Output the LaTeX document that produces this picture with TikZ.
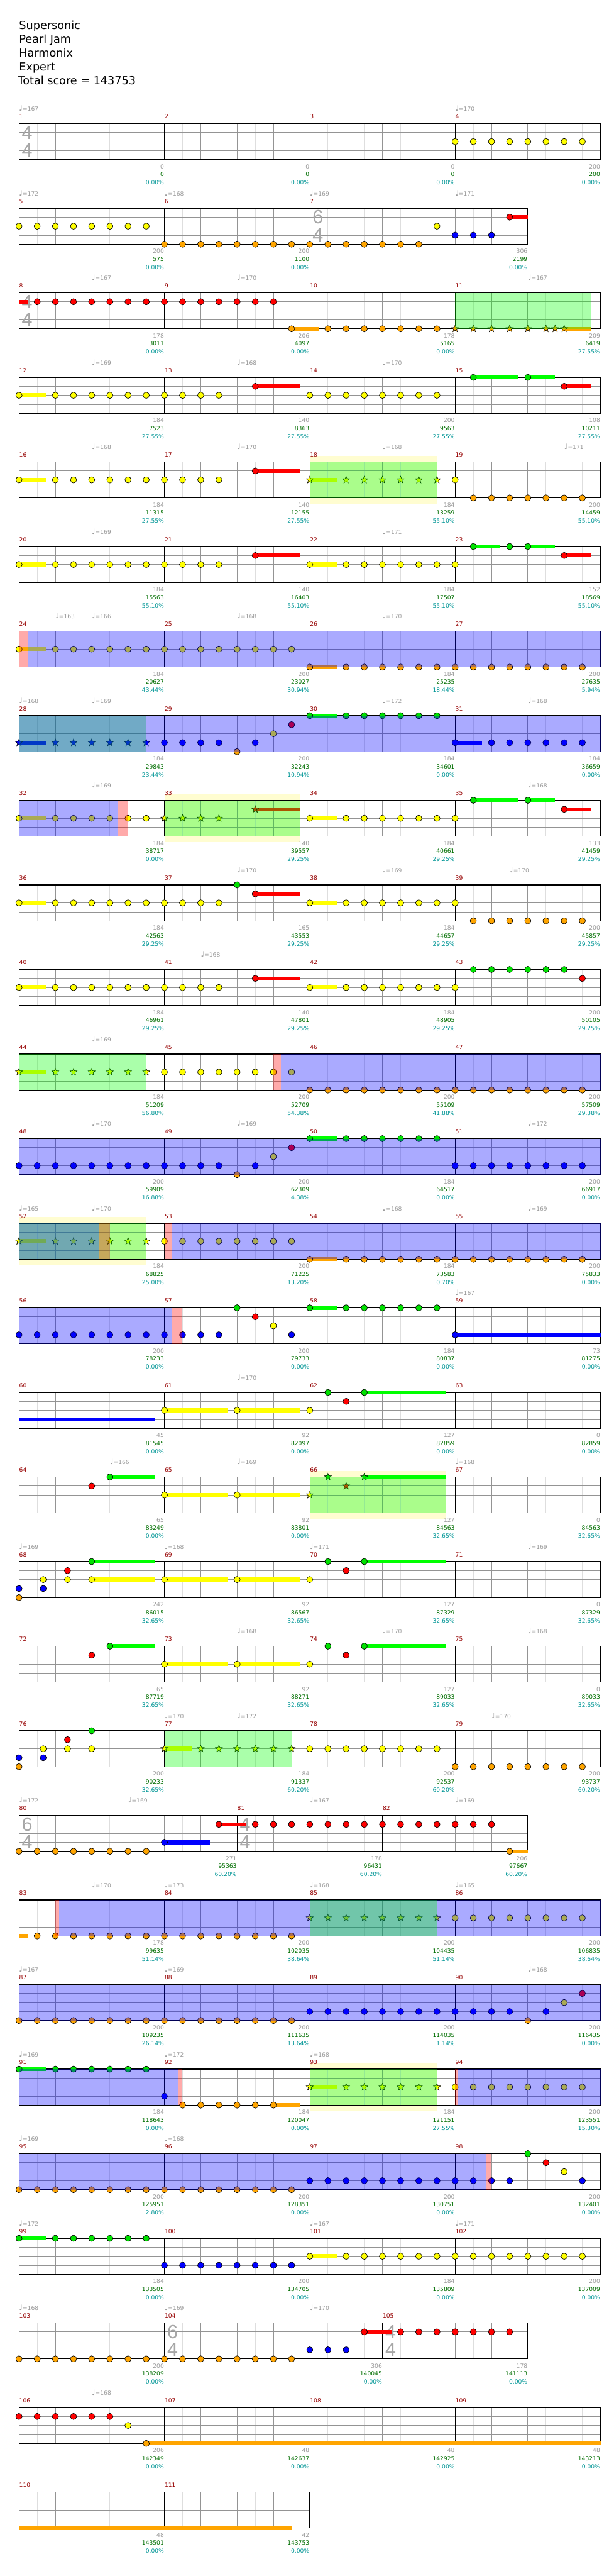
\documentclass[tikz,border=0pt]{standalone}
\usepackage{fontspec}
\setmainfont{DejaVu Sans}
\newfontfamily\tsfont{Liberation Sans}
\usetikzlibrary{shapes.geometric}
\definecolor{cG}{RGB}{0,225,0}
\definecolor{sG}{RGB}{0,255,0}
\definecolor{cR}{RGB}{255,0,0}
\definecolor{cY}{RGB}{255,255,0}
\definecolor{cB}{RGB}{0,0,255}
\definecolor{cO}{RGB}{255,165,0}
\definecolor{mred}{RGB}{150,0,0}
\definecolor{tgray}{RGB}{155,155,155}
\definecolor{sgreen}{RGB}{0,110,0}
\definecolor{pteal}{RGB}{0,150,150}
\newcount\nodeid
\newcommand\Nn{\global\advance\nodeid by 1\relax}
\newcommand\Grd[1]{%
 \foreach \i in {1,3,...,#1}{\draw[halfl] (\i,0) -- (\i,60);}%
 \foreach \i in {2,4,...,#1}{\draw[beatl] (\i,0) -- (\i,60);}%
 \foreach \j in {15,30,45}{\draw[beatl] (0,\j) -- (#1,\j);}}
\newcommand\Mls[1]{\foreach \i in {#1}{\draw[measl] (\i,0) -- (\i,60);}}
\newcommand\Brd[1]{\draw[bordl] (0,0) rectangle (#1,60);}
\newcommand\StdRow{\Grd{32}\Mls{8,16,24}\Brd{32}}
\newcommand\Nts[3]{\foreach \e in {#3}{\filldraw[notest,fill=#1] (\e,#2*15) circle[radius=5.2pt];}}
\newcommand\Sus[4]{\fill[#1] (#3,#2*15-3.3) rectangle (#4,#2*15+3.3);}
\newcommand\Sts[3]{\foreach \e in {#3}{\Nn\node[starn,fill=#1] (n\the\nodeid) at (\e,#2*15) {};}}
\newcommand\Mnum[2]{\Nn\node[mnumst] (n\the\nodeid) at (#1,-8) {#2};}
\newcommand\MnF[4]{\Mnum{0}{#1}\Mnum{8}{#2}\Mnum{16}{#3}\Mnum{24}{#4}}
\newcommand\Tmp[2]{\Nn\node[tmpst] (n\the\nodeid) at (#1,-20.5) {{\fontsize{12.5}{12}\selectfont ♩}=#2};}
\newcommand\Blab[4]{\Nn\node[glab] (n\the\nodeid) at (#1,75) {#2};\Nn\node[slab] (n\the\nodeid) at (#1,88.5) {#3};\Nn\node[plab] (n\the\nodeid) at (#1,102) {#4};}
\newcommand\Tsig[3]{\Nn\node[tsst] (n\the\nodeid) at ([xshift=4.5pt]#1,15) {#2};\Nn\node[tsst] (n\the\nodeid) at ([xshift=4.5pt]#1,45) {#3};}
\newcommand\Ov[3]{\fill[#1,fill opacity=0.333] (#2,0) rectangle (#3,60);}
\newcommand\Band[2]{\fill[yellow!18] (#1,-10) rectangle (#2,70);}
\begin{document}
\begin{tikzpicture}[x=30.3125pt,y=-1pt,
 halfl/.style={draw=black!13,line width=0.8pt},
 beatl/.style={draw=black!42,line width=0.8pt},
 measl/.style={draw=black,line width=0.8pt},
 bordl/.style={draw=black,line width=1.2pt},
 notest/.style={draw=black,line width=0.7pt},
 starn/.style={star,star points=5,star point ratio=2.4,minimum size=12.5pt,inner sep=0pt,draw=black,line width=0.6pt},
 smallf/.style={font=\fontsize{9.6}{10}\selectfont,inner sep=0pt},
 mnumst/.style={smallf,anchor=base west,text=mred,xshift=0.3pt},
 tmpst/.style={smallf,anchor=base west,text=tgray},
 glab/.style={smallf,anchor=base east,text=tgray,xshift=-0.5pt},
 slab/.style={smallf,anchor=base east,text=sgreen,xshift=-0.5pt},
 plab/.style={smallf,anchor=base east,text=pteal,xshift=-0.5pt},
 tsst/.style={anchor=west,inner sep=0pt,text=black!35,font=\tsfont\fontsize{32}{32}\selectfont},
 titlest/.style={anchor=base west,inner sep=0pt,font=\fontsize{18.5}{20}\selectfont}]
\useasboundingbox (-1.0458,0) rectangle (32.735,4294);
\fill[white] (-1.0458,0) rectangle (32.735,4294);
\node[titlest] (t1) at (0,48.5) {Supersonic};
\node[titlest] (t2) at (0,71.6) {Pearl Jam};
\node[titlest] (t3) at (0,94.7) {Harmonix};
\node[titlest] (t4) at (0,117.8) {Expert};
\node[titlest] (t5) at (-0.066,140.9) {Total score = 143753};
% row 1
\begin{scope}[shift={(0,206)}]
\StdRow\Tsig{0}{4}{4}
\Nts{cY}{2}{24,...,31}
\MnF{1}{2}{3}{4}
\Tmp{0}{167}\Tmp{24}{170}
\Blab{8}{0}{0}{0.00\%}\Blab{16}{0}{0}{0.00\%}\Blab{24}{0}{0}{0.00\%}\Blab{32}{200}{200}{0.00\%}
\end{scope}
% row 2
\begin{scope}[shift={(0,347)}]
\Grd{28}\Mls{8,16}\Brd{28}\Tsig{16}{6}{4}
\Sus{cR}{1}{27}{28}
\Nts{cY}{2}{0,...,7}\Nts{cY}{2}{23}\Nts{cO}{4}{8,...,22}\Nts{cB}{3}{24,25,26}\Nts{cR}{1}{27}
\Mnum{0}{5}\Mnum{8}{6}\Mnum{16}{7}
\Tmp{0}{172}\Tmp{8}{168}\Tmp{16}{169}\Tmp{24}{171}
\Blab{8}{200}{575}{0.00\%}\Blab{16}{200}{1100}{0.00\%}\Blab{28}{306}{2199}{0.00\%}
\end{scope}
% row 3
\begin{scope}[shift={(0,488)}]
\StdRow\Tsig{0}{4}{4}
\Sus{cR}{1}{0}{0.48}\Nts{cR}{1}{1,...,14}
\Sus{cO}{4}{15}{16.48}\Nts{cO}{4}{15,17,18,19,20,21,22,23}
\Sus{cO}{4}{30}{31.48}\Sts{cO}{4}{24,25,26,27,28,29,29.5,30}
\Ov{green}{24}{31.48}
\MnF{8}{9}{10}{11}
\Tmp{4}{167}\Tmp{12}{170}\Tmp{28}{167}
\Blab{8}{178}{3011}{0.00\%}\Blab{16}{206}{4097}{0.00\%}\Blab{24}{178}{5165}{0.00\%}\Blab{32}{209}{6419}{27.55\%}
\end{scope}
% row 4
\begin{scope}[shift={(0,629)}]
\StdRow
\Sus{cY}{2}{0}{1.48}\Nts{cY}{2}{0,2,3,4,5,6,7,8,9,10,11,16,17,18,19,20,21,22,23}
\Sus{cR}{1}{13}{15.48}\Nts{cR}{1}{13}
\Sus{sG}{0}{25}{27.5}\Nts{cG}{0}{25}\Sus{sG}{0}{28}{29.5}\Nts{cG}{0}{28}
\Sus{cR}{1}{30}{31.48}\Nts{cR}{1}{30}
\MnF{12}{13}{14}{15}
\Tmp{4}{169}\Tmp{12}{168}\Tmp{20}{170}
\Blab{8}{184}{7523}{27.55\%}\Blab{16}{140}{8363}{27.55\%}\Blab{24}{200}{9563}{27.55\%}\Blab{32}{108}{10211}{27.55\%}
\end{scope}
% row 5
\begin{scope}[shift={(0,770)}]
\Band{16}{23}\StdRow
\Sus{cY}{2}{0}{1.48}\Nts{cY}{2}{0,2,3,4,5,6,7,8,9,10,11,24}
\Sus{cR}{1}{13}{15.48}\Nts{cR}{1}{13}
\Sus{cY}{2}{16}{17.48}\Sts{cY}{2}{16,18,19,20,21,22,23}
\Nts{cO}{4}{25,...,31}
\Ov{green}{16}{23}
\MnF{16}{17}{18}{19}
\Tmp{4}{168}\Tmp{12}{170}\Tmp{20}{168}\Tmp{30}{171}
\Blab{8}{184}{11315}{27.55\%}\Blab{16}{140}{12155}{27.55\%}\Blab{24}{184}{13259}{55.10\%}\Blab{32}{200}{14459}{55.10\%}
\end{scope}
% row 6
\begin{scope}[shift={(0,911)}]
\StdRow
\Sus{cY}{2}{0}{1.48}\Nts{cY}{2}{0,2,3,4,5,6,7,8,9,10,11}
\Sus{cR}{1}{13}{15.48}\Nts{cR}{1}{13}
\Sus{cY}{2}{16}{17.48}\Nts{cY}{2}{16,18,19,20,21,22,23,24}
\Sus{sG}{0}{25}{26.5}\Nts{cG}{0}{25,27}\Sus{sG}{0}{28}{29.5}\Nts{cG}{0}{28}
\Sus{cR}{1}{30}{31.48}\Nts{cR}{1}{30}
\MnF{20}{21}{22}{23}
\Tmp{4}{169}\Tmp{20}{171}
\Blab{8}{184}{15563}{55.10\%}\Blab{16}{140}{16403}{55.10\%}\Blab{24}{184}{17507}{55.10\%}\Blab{32}{152}{18569}{55.10\%}
\end{scope}
% row 7
\begin{scope}[shift={(0,1052)}]
\StdRow
\Sus{cY}{2}{0}{1.48}\Nts{cY}{2}{0}\Nts{cY}{2}{2,...,15}
\Sus{cO}{4}{16}{17.48}\Nts{cO}{4}{16}\Nts{cO}{4}{18,...,31}
\Ov{red}{0}{0.48}\Ov{blue}{0.48}{32}
\MnF{24}{25}{26}{27}
\Tmp{2}{163}\Tmp{4}{166}\Tmp{12}{168}\Tmp{20}{170}
\Blab{8}{184}{20627}{43.44\%}\Blab{16}{200}{23027}{30.94\%}\Blab{24}{184}{25235}{18.44\%}\Blab{32}{200}{27635}{5.94\%}
\end{scope}
% row 8
\begin{scope}[shift={(0,1193)}]
\StdRow
\Sus{cB}{3}{0}{1.48}\Sts{cB}{3}{0,2,3,4,5,6,7}
\Nts{cB}{3}{8,9,10,11,13}\Nts{cO}{4}{12}\Nts{cY}{2}{14}\Nts{cR}{1}{15}
\Sus{sG}{0}{16}{17.48}\Nts{cG}{0}{16,18,19,20,21,22,23}
\Sus{cB}{3}{24}{25.48}\Nts{cB}{3}{24,26,27,28,29,30,31}
\Ov{green}{0}{7}\Ov{blue}{0}{32}
\MnF{28}{29}{30}{31}
\Tmp{0}{168}\Tmp{4}{169}\Tmp{20}{172}\Tmp{28}{168}
\Blab{8}{184}{29843}{23.44\%}\Blab{16}{200}{32243}{10.94\%}\Blab{24}{184}{34601}{0.00\%}\Blab{32}{184}{36659}{0.00\%}
\end{scope}
% row 9
\begin{scope}[shift={(0,1334)}]
\Band{8}{15.48}\StdRow
\Sus{cY}{2}{0}{1.48}\Nts{cY}{2}{0,2,3,4,5,6,7}
\Sts{cY}{2}{8,9,10,11}
\Sus{cR}{1}{13}{15.48}\Sts{cR}{1}{13}
\Sus{cY}{2}{16}{17.48}\Nts{cY}{2}{16,18,19,20,21,22,23,24}
\Sus{sG}{0}{25}{27.5}\Nts{cG}{0}{25}\Sus{sG}{0}{28}{29.5}\Nts{cG}{0}{28}
\Sus{cR}{1}{30}{31.48}\Nts{cR}{1}{30}
\Ov{green}{8}{15.48}\Ov{blue}{0}{5.44}\Ov{red}{5.44}{6}
\MnF{32}{33}{34}{35}
\Tmp{4}{169}\Tmp{28}{168}
\Blab{8}{184}{38717}{0.00\%}\Blab{16}{140}{39557}{29.25\%}\Blab{24}{184}{40661}{29.25\%}\Blab{32}{133}{41459}{29.25\%}
\end{scope}
% row 10
\begin{scope}[shift={(0,1475)}]
\StdRow
\Sus{cY}{2}{0}{1.48}\Nts{cY}{2}{0,2,3,4,5,6,7,8,9,10,11}\Nts{cG}{0}{12}
\Sus{cR}{1}{13}{15.48}\Nts{cR}{1}{13}
\Sus{cY}{2}{16}{17.48}\Nts{cY}{2}{16,18,19,20,21,22,23,24}\Nts{cO}{4}{25,...,31}
\MnF{36}{37}{38}{39}
\Tmp{12}{170}\Tmp{20}{169}\Tmp{27}{170}
\Blab{8}{184}{42563}{29.25\%}\Blab{16}{165}{43553}{29.25\%}\Blab{24}{184}{44657}{29.25\%}\Blab{32}{200}{45857}{29.25\%}
\end{scope}
% row 11
\begin{scope}[shift={(0,1616)}]
\StdRow
\Sus{cY}{2}{0}{1.48}\Nts{cY}{2}{0,2,3,4,5,6,7,8,9,10,11}
\Sus{cR}{1}{13}{15.48}\Nts{cR}{1}{13}
\Sus{cY}{2}{16}{17.48}\Nts{cY}{2}{16,18,19,20,21,22,23,24}\Nts{cG}{0}{25,...,30}\Nts{cR}{1}{31}
\MnF{40}{41}{42}{43}
\Tmp{10}{168}
\Blab{8}{184}{46961}{29.25\%}\Blab{16}{140}{47801}{29.25\%}\Blab{24}{184}{48905}{29.25\%}\Blab{32}{200}{50105}{29.25\%}
\end{scope}
% row 12
\begin{scope}[shift={(0,1757)}]
\StdRow
\Sus{cY}{2}{0}{1.48}\Sts{cY}{2}{0,2,3,4,5,6,7}\Nts{cY}{2}{8,...,15}\Nts{cO}{4}{16,...,31}
\Ov{green}{0}{7}\Ov{red}{14}{14.4}\Ov{blue}{14.4}{32}
\MnF{44}{45}{46}{47}
\Tmp{4}{169}
\Blab{8}{184}{51209}{56.80\%}\Blab{16}{200}{52709}{54.38\%}\Blab{24}{200}{55109}{41.88\%}\Blab{32}{200}{57509}{29.38\%}
\end{scope}
% row 13
\begin{scope}[shift={(0,1898)}]
\StdRow
\Nts{cB}{3}{0,...,11}\Nts{cO}{4}{12}\Nts{cB}{3}{13}\Nts{cY}{2}{14}\Nts{cR}{1}{15}
\Sus{sG}{0}{16}{17.48}\Nts{cG}{0}{16,18,19,20,21,22,23}\Nts{cB}{3}{24,...,31}
\Ov{blue}{0}{32}
\MnF{48}{49}{50}{51}
\Tmp{4}{170}\Tmp{12}{169}\Tmp{28}{172}
\Blab{8}{200}{59909}{16.88\%}\Blab{16}{200}{62309}{4.38\%}\Blab{24}{184}{64517}{0.00\%}\Blab{32}{200}{66917}{0.00\%}
\end{scope}
% row 14
\begin{scope}[shift={(0,2039)}]
\Band{0}{7}\StdRow
\Sus{cY}{2}{0}{1.48}\Sts{cY}{2}{0,2,3,4,5,6,7}\Nts{cY}{2}{8,...,15}
\Sus{cO}{4}{16}{17.48}\Nts{cO}{4}{16}\Nts{cO}{4}{18,...,31}
\Ov{green}{0}{7}\Ov{blue}{0}{4.42}\Ov{red}{4.42}{5}\Ov{red}{8}{8.43}\Ov{blue}{8.43}{32}
\MnF{52}{53}{54}{55}
\Tmp{0}{165}\Tmp{4}{170}\Tmp{20}{168}\Tmp{28}{169}
\Blab{8}{184}{68825}{25.00\%}\Blab{16}{200}{71225}{13.20\%}\Blab{24}{184}{73583}{0.70\%}\Blab{32}{200}{75833}{0.00\%}
\end{scope}
% row 15
\begin{scope}[shift={(0,2180)}]
\StdRow
\Nts{cB}{3}{0,...,11}\Nts{cG}{0}{12}\Nts{cR}{1}{13}\Nts{cY}{2}{14}\Nts{cB}{3}{15}
\Sus{sG}{0}{16}{17.48}\Nts{cG}{0}{16,18,19,20,21,22,23}
\Sus{cB}{3}{24}{32}\Nts{cB}{3}{24}
\Ov{blue}{0}{8.43}\Ov{red}{8.43}{9}
\MnF{56}{57}{58}{59}
\Tmp{24}{167}
\Blab{8}{200}{78233}{0.00\%}\Blab{16}{200}{79733}{0.00\%}\Blab{24}{184}{80837}{0.00\%}\Blab{32}{73}{81275}{0.00\%}
\end{scope}
% row 16
\begin{scope}[shift={(0,2321)}]
\StdRow
\Sus{cB}{3}{0}{7.49}
\Sus{cY}{2}{8}{11.5}\Sus{cY}{2}{12}{15.5}\Nts{cY}{2}{8,12,16}
\Nts{cG}{0}{17}\Nts{cR}{1}{18}\Sus{sG}{0}{19}{23.49}\Nts{cG}{0}{19}
\MnF{60}{61}{62}{63}
\Tmp{12}{170}
\Blab{8}{45}{81545}{0.00\%}\Blab{16}{92}{82097}{0.00\%}\Blab{24}{127}{82859}{0.00\%}\Blab{32}{0}{82859}{0.00\%}
\end{scope}
% row 17
\begin{scope}[shift={(0,2462)}]
\Band{16}{23.5}\StdRow
\Nts{cR}{1}{4}\Sus{sG}{0}{5}{7.5}\Nts{cG}{0}{5}
\Sus{cY}{2}{8}{11.5}\Sus{cY}{2}{12}{15.5}\Nts{cY}{2}{8,12}
\Sts{cY}{2}{16}\Sts{cG}{0}{17}\Sts{cR}{1}{18}\Sus{sG}{0}{19}{23.49}\Sts{cG}{0}{19}
\Ov{green}{16}{23.5}
\MnF{64}{65}{66}{67}
\Tmp{5}{166}\Tmp{12}{169}\Tmp{24}{168}
\Blab{8}{65}{83249}{0.00\%}\Blab{16}{92}{83801}{0.00\%}\Blab{24}{127}{84563}{32.65\%}\Blab{32}{0}{84563}{32.65\%}
\end{scope}
% row 18
\begin{scope}[shift={(0,2603)}]
\StdRow
\Nts{cB}{3}{0,1.333}\Nts{cO}{4}{0}\Nts{cY}{2}{1.333,2.667}\Nts{cR}{1}{2.667}
\Sus{sG}{0}{4}{7.5}\Sus{cY}{2}{4}{7.5}\Nts{cG}{0}{4}\Nts{cY}{2}{4}
\Sus{cY}{2}{8}{11.5}\Sus{cY}{2}{12}{15.5}\Nts{cY}{2}{8,12,16}
\Nts{cG}{0}{17}\Nts{cR}{1}{18}\Sus{sG}{0}{19}{23.49}\Nts{cG}{0}{19}
\MnF{68}{69}{70}{71}
\Tmp{0}{169}\Tmp{8}{168}\Tmp{16}{171}\Tmp{28}{169}
\Blab{8}{242}{86015}{32.65\%}\Blab{16}{92}{86567}{32.65\%}\Blab{24}{127}{87329}{32.65\%}\Blab{32}{0}{87329}{32.65\%}
\end{scope}
% row 19
\begin{scope}[shift={(0,2744)}]
\StdRow
\Nts{cR}{1}{4}\Sus{sG}{0}{5}{7.5}\Nts{cG}{0}{5}
\Sus{cY}{2}{8}{11.5}\Sus{cY}{2}{12}{15.5}\Nts{cY}{2}{8,12,16}
\Nts{cG}{0}{17}\Nts{cR}{1}{18}\Sus{sG}{0}{19}{23.49}\Nts{cG}{0}{19}
\MnF{72}{73}{74}{75}
\Tmp{12}{168}\Tmp{20}{170}\Tmp{28}{168}
\Blab{8}{65}{87719}{32.65\%}\Blab{16}{92}{88271}{32.65\%}\Blab{24}{127}{89033}{32.65\%}\Blab{32}{0}{89033}{32.65\%}
\end{scope}
% row 20
\begin{scope}[shift={(0,2885)}]
\StdRow
\Nts{cB}{3}{0,1.333}\Nts{cO}{4}{0}\Nts{cY}{2}{1.333,2.667,4}\Nts{cR}{1}{2.667}\Nts{cG}{0}{4}
\Sus{cY}{2}{8}{9.49}\Sts{cY}{2}{8,10,11,12,13,14,15}\Nts{cY}{2}{16,...,23}\Nts{cO}{4}{24,...,31}
\Ov{green}{8}{15}
\MnF{76}{77}{78}{79}
\Tmp{8}{170}\Tmp{12}{172}\Tmp{26}{170}
\Blab{8}{200}{90233}{32.65\%}\Blab{16}{184}{91337}{60.20\%}\Blab{24}{200}{92537}{60.20\%}\Blab{32}{200}{93737}{60.20\%}
\end{scope}
% row 21
\begin{scope}[shift={(0,3026)}]
\Grd{28}\Mls{12,20}\Brd{28}\Tsig{0}{6}{4}\Tsig{12}{4}{4}
\Nts{cO}{4}{0,...,7}\Sus{cB}{3}{8}{10.49}\Nts{cB}{3}{8}
\Sus{cR}{1}{11}{12.5}\Nts{cR}{1}{11}\Nts{cR}{1}{13,...,26}\Sus{cO}{4}{27}{28}\Nts{cO}{4}{27}
\Mnum{0}{80}\Mnum{12}{81}\Mnum{20}{82}
\Tmp{0}{172}\Tmp{6}{169}\Tmp{16}{167}\Tmp{24}{169}
\Blab{12}{271}{95363}{60.20\%}\Blab{20}{178}{96431}{60.20\%}\Blab{28}{206}{97667}{60.20\%}
\end{scope}
% row 22
\begin{scope}[shift={(0,3167)}]
\StdRow
\Sus{cO}{4}{0}{0.48}\Nts{cO}{4}{1,...,15}
\Sts{cY}{2}{16,...,23}\Nts{cY}{2}{24,...,31}
\Ov{red}{2}{2.2}\Ov{blue}{2.2}{32}\Ov{green}{16}{23}
\MnF{83}{84}{85}{86}
\Tmp{4}{170}\Tmp{8}{173}\Tmp{16}{168}\Tmp{24}{165}
\Blab{8}{178}{99635}{51.14\%}\Blab{16}{200}{102035}{38.64\%}\Blab{24}{200}{104435}{51.14\%}\Blab{32}{200}{106835}{38.64\%}
\end{scope}
% row 23
\begin{scope}[shift={(0,3308)}]
\StdRow
\Nts{cO}{4}{0,...,15}\Nts{cB}{3}{16,...,27}\Nts{cO}{4}{28}\Nts{cB}{3}{29}\Nts{cY}{2}{30}\Nts{cR}{1}{31}
\Ov{blue}{0}{32}
\MnF{87}{88}{89}{90}
\Tmp{0}{167}\Tmp{8}{169}\Tmp{28}{168}
\Blab{8}{200}{109235}{26.14\%}\Blab{16}{200}{111635}{13.64\%}\Blab{24}{200}{114035}{1.14\%}\Blab{32}{200}{116435}{0.00\%}
\end{scope}
% row 24
\begin{scope}[shift={(0,3449)}]
\Band{16}{23}\StdRow
\Sus{sG}{0}{0}{1.48}\Nts{cG}{0}{0,2,3,4,5,6,7}\Nts{cB}{3}{8}
\Sus{cO}{4}{14}{15.48}\Nts{cO}{4}{9,...,14}
\Sus{cY}{2}{16}{17.48}\Sts{cY}{2}{16,18,19,20,21,22,23}\Nts{cY}{2}{24,...,31}
\Ov{blue}{0}{8.73}\Ov{red}{8.73}{8.95}\Ov{green}{16}{23}\Ov{red}{24}{24.12}\Ov{blue}{24.12}{32}
\MnF{91}{92}{93}{94}
\Tmp{0}{169}\Tmp{8}{172}\Tmp{16}{168}
\Blab{8}{184}{118643}{0.00\%}\Blab{16}{184}{120047}{0.00\%}\Blab{24}{184}{121151}{27.55\%}\Blab{32}{200}{123551}{15.30\%}
\end{scope}
% row 25
\begin{scope}[shift={(0,3590)}]
\StdRow
\Nts{cO}{4}{0,...,15}\Nts{cB}{3}{16,...,27}\Nts{cG}{0}{28}\Nts{cR}{1}{29}\Nts{cY}{2}{30}\Nts{cB}{3}{31}
\Ov{blue}{0}{25.73}\Ov{red}{25.73}{25.95}
\MnF{95}{96}{97}{98}
\Tmp{0}{169}\Tmp{8}{168}
\Blab{8}{200}{125951}{2.80\%}\Blab{16}{200}{128351}{0.00\%}\Blab{24}{200}{130751}{0.00\%}\Blab{32}{200}{132401}{0.00\%}
\end{scope}
% row 26
\begin{scope}[shift={(0,3731)}]
\StdRow
\Sus{sG}{0}{0}{1.48}\Nts{cG}{0}{0,2,3,4,5,6,7}\Nts{cB}{3}{8,...,15}
\Sus{cY}{2}{16}{17.48}\Nts{cY}{2}{16}\Nts{cY}{2}{18,...,31}
\MnF{99}{100}{101}{102}
\Tmp{0}{172}\Tmp{16}{167}\Tmp{24}{171}
\Blab{8}{184}{133505}{0.00\%}\Blab{16}{200}{134705}{0.00\%}\Blab{24}{184}{135809}{0.00\%}\Blab{32}{200}{137009}{0.00\%}
\end{scope}
% row 27
\begin{scope}[shift={(0,3872)}]
\Grd{28}\Mls{8,20}\Brd{28}\Tsig{8}{6}{4}\Tsig{20}{4}{4}
\Nts{cO}{4}{0,...,15}\Nts{cB}{3}{16,17,18}\Sus{cR}{1}{19}{20.5}\Nts{cR}{1}{19}\Nts{cR}{1}{21,...,27}
\Mnum{0}{103}\Mnum{8}{104}\Mnum{20}{105}
\Tmp{0}{168}\Tmp{8}{169}\Tmp{16}{170}
\Blab{8}{200}{138209}{0.00\%}\Blab{20}{306}{140045}{0.00\%}\Blab{28}{178}{141113}{0.00\%}
\end{scope}
% row 28
\begin{scope}[shift={(0,4013)}]
\StdRow
\Nts{cR}{1}{0,...,5}\Nts{cY}{2}{6}\Sus{cO}{4}{7}{32}\Nts{cO}{4}{7}
\MnF{106}{107}{108}{109}
\Tmp{4}{168}
\Blab{8}{206}{142349}{0.00\%}\Blab{16}{48}{142637}{0.00\%}\Blab{24}{48}{142925}{0.00\%}\Blab{32}{48}{143213}{0.00\%}
\end{scope}
% row 29
\begin{scope}[shift={(0,4154)}]
\Grd{16}\Mls{8}\Brd{16}
\Sus{cO}{4}{0}{15}
\Mnum{0}{110}\Mnum{8}{111}
\Blab{8}{48}{143501}{0.00\%}\Blab{16}{42}{143753}{0.00\%}
\end{scope}
\end{tikzpicture}
\end{document}
